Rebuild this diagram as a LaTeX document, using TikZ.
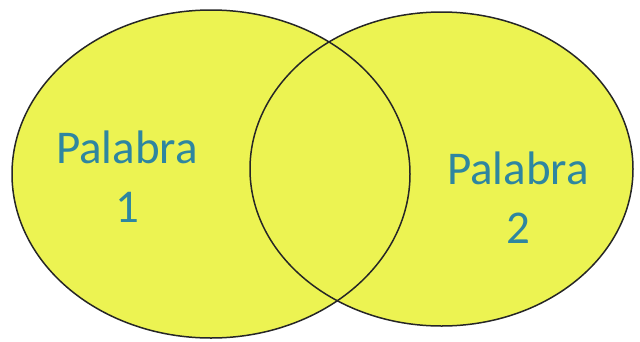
\documentclass[tikz,border=0pt]{standalone}
\usepackage{fontspec}
\setmainfont{Carlito}
\definecolor{vfill}{RGB}{236,243,82}
\definecolor{vtext}{RGB}{46,134,160}
\begin{document}
\begin{tikzpicture}[x=1pt,y=-1pt,
  setshape/.style={fill=vfill},
  setline/.style={draw=black!85,line width=1.5pt},
  lbl/.style={text=vtext,font=\fontsize{47}{59}\selectfont,align=center,inner sep=0pt}]
\useasboundingbox (0,0) rectangle (640,341);
\fill[white] (0,0) rectangle (640,341);
\path[setshape] (211,174) ellipse [x radius=199, y radius=164];
\path[setshape] (441.5,169) ellipse [x radius=191.5, y radius=157];
\draw[setline] (211,174) ellipse [x radius=199, y radius=164];
\draw[setline] (441.5,169) ellipse [x radius=191.5, y radius=157];
\node[lbl] (p1) at (127,177) {Palabra\\1};
\node[lbl] (p2) at (518,198) {Palabra\\2};
\end{tikzpicture}
\end{document}
